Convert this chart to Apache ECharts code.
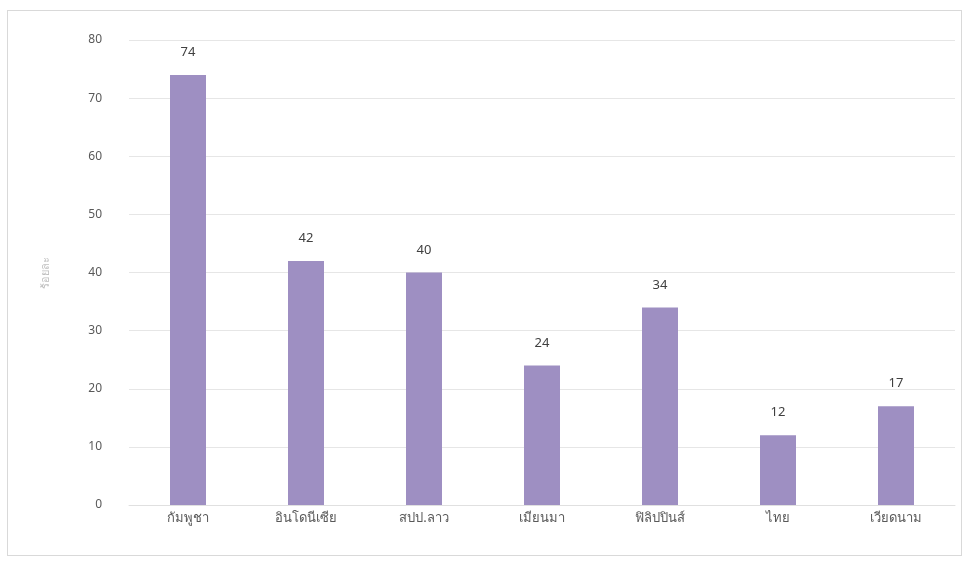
<!DOCTYPE html>
<html><head><meta charset="utf-8">
<script src="https://cdn.jsdelivr.net/npm/echarts@6/dist/echarts.min.js"></script>
<style>
html,body{margin:0;padding:0;background:#fff;}
#wrap{position:absolute;left:7px;top:10px;width:955px;height:546px;border:1px solid #d9d9d9;box-sizing:border-box;}
#c{width:968px;height:562px;position:absolute;left:0;top:0;}
</style></head>
<body>
<div id="wrap"></div>
<div id="c"></div>
<script>
const categories = ['กัมพูชา','อินโดนีเซีย','สปป.ลาว','เมียนมา','ฟิลิปปินส์','ไทย','เวียดนาม'];
const values = [74, 42, 40, 24, 34, 12, 17];
const yTicks = {min: 0, max: 80, interval: 10};
const yName = 'ร้อยละ';

const chart = echarts.init(document.getElementById('c'), null, {renderer:'canvas'});
const font = '"Noto Sans", "DejaVu Sans", "Liberation Sans", sans-serif';
chart.setOption({
  animation:false,
  textStyle:{fontFamily:font},
  grid:{left:129, right:13, top:40, bottom:57},
  xAxis:{type:'category', data:categories,
    axisLine:{show:true, lineStyle:{color:'#e0e0e0'}}, axisTick:{show:false},
    axisLabel:{color:'#595959', fontSize:13, margin:7}},
  yAxis:{type:'value', min:yTicks.min, max:yTicks.max, interval:yTicks.interval,
    name:yName, nameLocation:'middle', nameGap:78, nameRotate:90,
    nameTextStyle:{color:'#bfbfbf', fontSize:11},
    axisLine:{show:false}, axisTick:{show:false},
    axisLabel:{color:'#595959', fontSize:12, margin:27},
    splitLine:{lineStyle:{color:'#e6e6e6'}}},
  series:[{type:'bar', data:values, barWidth:36,
    itemStyle:{color:'#9e8fc2'},
    label:{show:true, position:'top', color:'#404040', fontSize:13, distance:16}}]
});
</script>
</body></html>
